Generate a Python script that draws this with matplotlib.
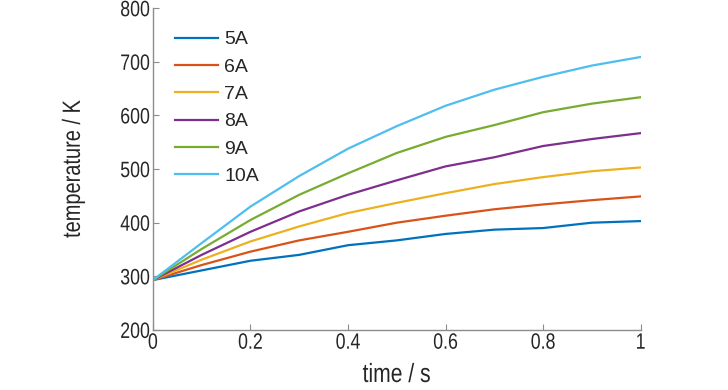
import matplotlib
matplotlib.use('Agg')
import matplotlib.pyplot as plt
from matplotlib import patheffects
from matplotlib.transforms import Affine2D

plt.rcParams['font.family'] = ['Liberation Sans', 'DejaVu Sans']

# time points and temperatures
time = [0, 0.1, 0.2, 0.3, 0.4, 0.5, 0.6, 0.7, 0.8, 0.9, 1.0]
t_5A = [293, 311, 329, 340, 358, 367, 379, 387, 390, 400, 403]
t_6A = [293, 321, 346, 367, 383, 400, 413, 425, 434, 442, 449]
t_7A = [293, 331, 365, 393, 418, 437, 455, 472, 485, 496, 503]
t_8A = [293, 340, 383, 421, 452, 479, 505, 522, 543, 556, 567]
t_9A = [293, 351, 405, 452, 492, 530, 560, 582, 606, 622, 634]
t_10A = [293, 362, 430, 487, 538, 580, 618, 648, 672, 693, 709]
labels = ['5A', '6A', '7A', '8A', '9A', '10A']
colors = ['#0072BD', '#D95319', '#EDB120', '#7E2F8E', '#77AC30', '#4DBEEE']


class Condense(patheffects.AbstractPathEffect):
    # squeeze the glyphs a bit to mimic the narrow font of the original
    def __init__(self, sx=1.0, sy=1.0, anchor='center'):
        super().__init__()
        self.sx, self.sy, self.anchor = sx, sy, anchor

    def draw_path(self, renderer, gc, tpath, affine, rgbFace=None):
        ext = tpath.get_extents(affine)
        cx = {'left': ext.x0, 'right': ext.x1}.get(self.anchor, (ext.x0 + ext.x1) / 2)
        cy = (ext.y0 + ext.y1) / 2
        t = affine + Affine2D().translate(-cx, -cy).scale(self.sx, self.sy).translate(cx, cy)
        renderer.draw_path(gc, tpath, t, rgbFace)


fig, ax = plt.subplots(figsize=(7.28, 3.9), dpi=100)
fig.subplots_adjust(left=0.21, right=0.88, top=0.979, bottom=0.154)

for y, lab, c in zip([t_5A, t_6A, t_7A, t_8A, t_9A, t_10A], labels, colors):
    ax.plot(time, y, color=c, lw=1.6, label=lab)

ax.set_xlim(0, 1)
ax.set_ylim(200, 800)
ax.set_xticks([0, 0.2, 0.4, 0.6, 0.8, 1])
ax.set_xticklabels(['0', '0.2', '0.4', '0.6', '0.8', '1'])
ax.set_yticks(range(200, 801, 100))

for s in ['top', 'right']:
    ax.spines[s].set_visible(False)
for s in ['left', 'bottom']:
    ax.spines[s].set_color('#8c8c8c')
    ax.spines[s].set_linewidth(1.0)
ax.tick_params(direction='in', length=4, color='#8c8c8c', labelsize=16,
               labelcolor='#262626', pad=2)

for t in ax.get_xticklabels():
    t.set_path_effects([Condense(sx=0.8)])
for t in ax.get_yticklabels():
    t.set_path_effects([Condense(sx=0.8, anchor='right')])

ax.set_xlabel('time / s', fontsize=19, color='#262626', va='center',
              path_effects=[Condense(sx=0.8)])
ax.set_ylabel('temperature / K', fontsize=18, color='#262626', va='center',
              path_effects=[Condense(sy=0.8)])
ax.xaxis.set_label_coords(0.5, -0.14)
ax.yaxis.set_label_coords(-0.164, 0.5)

ax.legend(loc='upper left', frameon=False, fontsize=14, handlelength=2.2,
          handletextpad=0.35, labelspacing=0.5, borderpad=0, borderaxespad=0,
          bbox_to_anchor=(0.045, 0.93), labelcolor='#262626')

plt.savefig('out.png', dpi=100)
